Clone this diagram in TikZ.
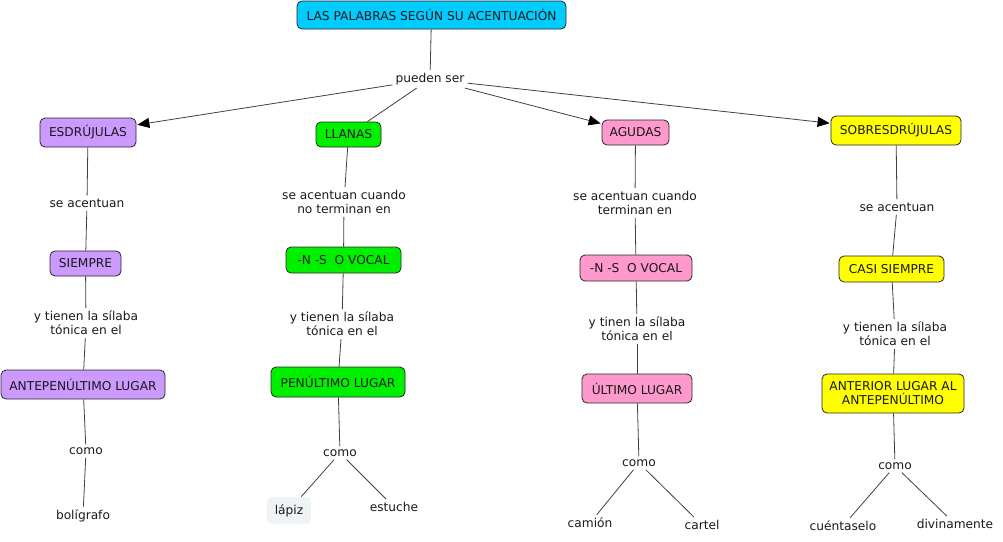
\documentclass[tikz,border=0pt]{standalone}
\usepackage{fontspec}
\setmainfont{DejaVu Sans}
\usetikzlibrary{arrows.meta}
\definecolor{ccyan}{RGB}{0,204,255}
\definecolor{cpurple}{RGB}{204,153,255}
\definecolor{cgreen}{RGB}{0,240,0}
\definecolor{cpink}{RGB}{255,153,204}
\definecolor{cyellow}{RGB}{255,255,0}
\definecolor{clight}{RGB}{238,243,246}
\definecolor{ctext}{RGB}{25,25,25}
\begin{document}
\begin{tikzpicture}[x=1pt,y=-1pt,
  concept/.style={draw=black!85, rounded corners=5pt, line width=0.8pt, font=\fontsize{12.2}{14}\selectfont, text=ctext, align=center, inner sep=0pt},
  link/.style={font=\fontsize{12.2}{14}\selectfont, text=ctext, align=center, inner sep=3pt},
  conn/.style={draw=black!75, line width=0.8pt},
  arr/.style={conn, -{Triangle[length=12pt,width=10pt,color=black]}, shorten >=1pt}]
\useasboundingbox (0,0) rectangle (1003,541);
% top
\node[concept, fill=ccyan, minimum width=269, minimum height=28] (title) at (431.5,15) {LAS PALABRAS SEGÚN SU ACENTUACIÓN};
\node[link] (pueden) at (430,79) {pueden ser};
\node[concept, fill=cpurple, minimum width=96, minimum height=29] (esd) at (88,132.5) {ESDRÚJULAS};
\node[concept, fill=cgreen, minimum width=65, minimum height=25] (llanas) at (348.5,134.5) {LLANAS};
\node[concept, fill=cpink, minimum width=67, minimum height=25] (agudas) at (635.5,132.5) {AGUDAS};
\node[concept, fill=cyellow, minimum width=130, minimum height=29] (sobre) at (896,130.5) {SOBRESDRÚJULAS};
% column 1
\node[link] (l1a) at (87,203) {se acentuan};
\node[concept, fill=cpurple, minimum width=71, minimum height=25] (siempre) at (85.5,263.5) {SIEMPRE};
\node[link] (l1b) at (86,323) {y tienen la sílaba\\tónica en el};
\node[concept, fill=cpurple, minimum width=164, minimum height=29] (ante) at (83,384.5) {ANTEPENÚLTIMO LUGAR};
\node[link] (l1c) at (86,451) {como};
\node[link] (bol) at (83,516) {bolígrafo};
% column 2
\node[link] (l2a) at (344,202) {se acentuan cuando\\no terminan en};
\node[concept, fill=cgreen, minimum width=115, minimum height=26] (voc2) at (343.5,260) {-N -S\ \ O VOCAL};
\node[link] (l2b) at (342,324) {y tienen la sílaba\\tónica en el};
\node[concept, fill=cgreen, minimum width=134, minimum height=30] (pen) at (338,382) {PENÚLTIMO LUGAR};
\node[link] (l2c) at (340,453) {como};
\node[concept, draw=none, fill=clight, minimum width=44, minimum height=27] (lapiz) at (289,510.5) {lápiz};
\node[link] (estuche) at (394,507) {estuche};
% column 3
\node[link] (l3a) at (635,203) {se acentuan cuando\\terminan en};
\node[concept, fill=cpink, minimum width=112, minimum height=26] (voc3) at (636,268) {-N -S\ \ O VOCAL};
\node[link] (l3b) at (637,329) {y tinen la sílaba\\tónica en el};
\node[concept, fill=cpink, minimum width=110, minimum height=29] (ultimo) at (637,388.5) {ÚLTIMO LUGAR};
\node[link] (l3c) at (639,463) {como};
\node[link] (camion) at (590,523) {camión};
\node[link] (cartel) at (702,525) {cartel};
% column 4
\node[link] (l4a) at (897,207) {se acentuan};
\node[concept, fill=cyellow, minimum width=105, minimum height=26] (casi) at (891.5,269) {CASI SIEMPRE};
\node[link] (l4b) at (895,334) {y tienen la sílaba\\tónica en el};
\node[concept, fill=cyellow, minimum width=142, minimum height=39] (anterior) at (893,393.5) {ANTERIOR LUGAR AL\\ANTEPENÚLTIMO};
\node[link] (l4c) at (895,466) {como};
\node[link] (cuent) at (843,526) {cuéntaselo};
\node[link] (divin) at (955,524) {divinamente};
% connectors
\draw[conn] (title) -- (pueden);
\draw[arr] (pueden) -- (esd);
\draw[conn] (pueden) -- (llanas);
\draw[arr] (pueden) -- (agudas);
\draw[arr] (pueden) -- (sobre);
\draw[conn] (esd) -- (l1a);
\draw[conn] (l1a) -- (siempre);
\draw[conn] (siempre) -- (l1b);
\draw[conn] (l1b) -- (ante);
\draw[conn] (ante) -- (l1c);
\draw[conn] (l1c) -- (bol);
\draw[conn] (llanas) -- (l2a);
\draw[conn] (l2a) -- (voc2);
\draw[conn] (voc2) -- (l2b);
\draw[conn] (l2b) -- (pen);
\draw[conn] (pen) -- (l2c);
\draw[conn] (l2c) -- (lapiz);
\draw[conn] (l2c) -- (estuche);
\draw[conn] (agudas) -- (l3a);
\draw[conn] (l3a) -- (voc3);
\draw[conn] (voc3) -- (l3b);
\draw[conn] (l3b) -- (ultimo);
\draw[conn] (ultimo) -- (l3c);
\draw[conn] (l3c) -- (camion);
\draw[conn] (l3c) -- (cartel);
\draw[conn] (sobre) -- (l4a);
\draw[conn] (l4a) -- (casi);
\draw[conn] (casi) -- (l4b);
\draw[conn] (l4b) -- (anterior);
\draw[conn] (anterior) -- (l4c);
\draw[conn] (l4c) -- (cuent);
\draw[conn] (l4c) -- (divin);
\end{tikzpicture}
\end{document}
